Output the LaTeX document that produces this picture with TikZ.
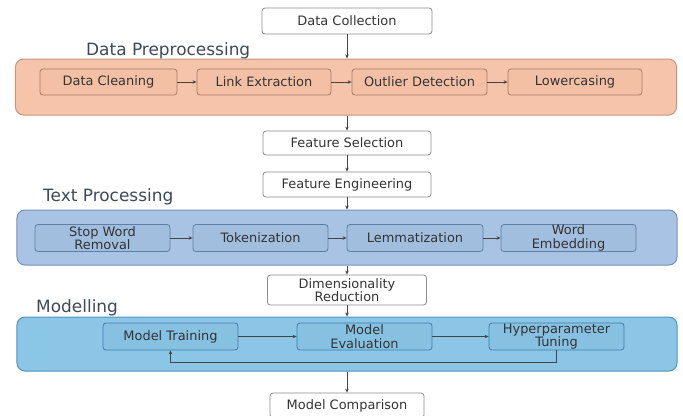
\documentclass[tikz,border=0pt]{standalone}
\usepackage{fontspec}
\setmainfont{DejaVu Sans}
\usetikzlibrary{arrows.meta}
\definecolor{txt}{HTML}{333333}
\definecolor{lbl}{HTML}{3E4A58}
\definecolor{boxgray}{HTML}{8C8C8C}
\definecolor{orfill}{HTML}{F5C4AB}
\definecolor{ordraw}{HTML}{C69480}
\definecolor{orin}{HTML}{F3C0A5}
\definecolor{orindraw}{HTML}{A87A66}
\definecolor{tpfill}{HTML}{A8C3E3}
\definecolor{tpdraw}{HTML}{7592B6}
\definecolor{tpin}{HTML}{A2BEDF}
\definecolor{tpindraw}{HTML}{5F7EA6}
\definecolor{mofill}{HTML}{8BC6E6}
\definecolor{modraw}{HTML}{4F92BE}
\definecolor{moin}{HTML}{86C1E2}
\definecolor{moindraw}{HTML}{3F7EAB}
\definecolor{arrc}{HTML}{444444}
\begin{document}
\begin{tikzpicture}[x=1bp,y=-1bp,
  boxtext/.style={font=\fontsize{13}{13.5}\selectfont, text=txt, align=center, inner sep=0pt},
  wbox/.style={boxtext, draw=boxgray, fill=white, rounded corners=3bp, line width=0.8bp},
  obox/.style={boxtext, draw=orindraw, fill=orin, rounded corners=3bp, line width=0.8bp},
  tbox/.style={boxtext, draw=tpindraw, fill=tpin, rounded corners=3bp, line width=0.8bp},
  mbox/.style={boxtext, draw=moindraw, fill=moin, rounded corners=3bp, line width=0.8bp},
  container/.style={rounded corners=8bp, line width=1bp, inner sep=0pt},
  seclabel/.style={font=\fontsize{17}{19}\selectfont, text=lbl, anchor=base west, inner sep=0pt},
  arr/.style={draw=arrc, line width=0.9bp, -{Stealth[length=4bp,width=3.5bp]}}
]
\useasboundingbox[fill=white] (0,0) rectangle (683,415);

% top box
\node[wbox, minimum width=170bp, minimum height=26bp] (dc) at (347,21) {Data Collection};

% Data preprocessing
\node[seclabel] (lpre) at (86,55) {Data Preprocessing};
\node[container, draw=ordraw, fill=orfill, minimum width=661bp, minimum height=56bp] (pre) at (346,87) {};
\node[obox, minimum width=137bp, minimum height=26bp] (dcl) at (108.5,82) {Data Cleaning};
\node[obox, minimum width=134bp, minimum height=26bp] (le) at (264,82) {Link Extraction};
\node[obox, minimum width=135bp, minimum height=26bp] (od) at (419.5,82) {Outlier Detection};
\node[obox, minimum width=134bp, minimum height=26bp] (lc) at (575,82) {Lowercasing};

% feature boxes
\node[wbox, minimum width=168bp, minimum height=24bp] (fs) at (347,143) {Feature Selection};
\node[wbox, minimum width=168bp, minimum height=25bp] (fe) at (347,184.5) {Feature Engineering};

% Text processing
\node[seclabel] (ltp) at (43,201) {Text Processing};
\node[container, draw=tpdraw, fill=tpfill, minimum width=660bp, minimum height=55bp] (tp) at (347,237.5) {};
\node[tbox, minimum width=135bp, minimum height=27bp] (swr) at (102.5,238) {Stop Word\\Removal};
\node[tbox, minimum width=135bp, minimum height=27bp] (tok) at (260.5,238) {Tokenization};
\node[tbox, minimum width=136bp, minimum height=27bp] (lem) at (415,238) {Lemmatization};
\node[tbox, minimum width=135bp, minimum height=27bp] (we) at (568.5,238) {Word\\Embedding};

% Dimensionality reduction
\node[wbox, minimum width=159bp, minimum height=30bp] (dr) at (347,290) {Dimensionality\\Reduction};

% Modelling
\node[seclabel] (lmo) at (36,312.5) {Modelling};
\node[container, draw=modraw, fill=mofill, minimum width=660bp, minimum height=54bp] (mo) at (347,344) {};
\node[mbox, minimum width=135bp, minimum height=27bp] (mt) at (170.5,336.5) {Model Training};
\node[mbox, minimum width=135bp, minimum height=27bp] (me) at (364.5,336.5) {Model\\Evaluation};
\node[mbox, minimum width=135bp, minimum height=27bp] (ht) at (556.5,336.5) {Hyperparameter\\Tuning};

% Model comparison
\node[wbox, minimum width=154bp, minimum height=25bp] (mc) at (347,405.5) {Model Comparison};

% vertical flow
\draw[arr] (dc.south) -- (dc.south |- pre.north);
\draw[arr] (fs.north |- pre.south) -- (fs.north);
\draw[arr] (fs.south) -- (fe.north);
\draw[arr] (fe.south) -- (fe.south |- tp.north);
\draw[arr] (dr.north |- tp.south) -- (dr.north);
\draw[arr] (dr.south) -- (dr.south |- mo.north);
\draw[arr] (mc.north |- mo.south) -- (mc.north);

% horizontal flow
\draw[arr] (dcl.east) -- (le.west);
\draw[arr] (le.east) -- (od.west);
\draw[arr] (od.east) -- (lc.west);
\draw[arr] (swr.east) -- (tok.west);
\draw[arr] (tok.east) -- (lem.west);
\draw[arr] (lem.east) -- (we.west);
\draw[arr] (mt.east) -- (me.west);
\draw[arr] (me.east) -- (ht.west);
\draw[arr] (ht.south) -- ++(0,12) -| (mt.south);
\end{tikzpicture}
\end{document}
